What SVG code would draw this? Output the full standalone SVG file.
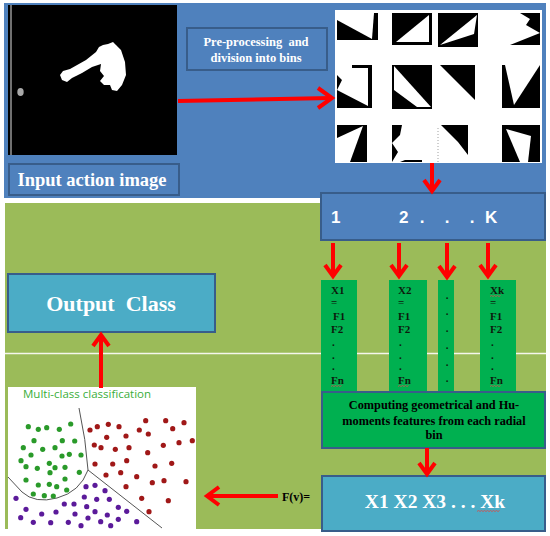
<svg xmlns="http://www.w3.org/2000/svg" width="550" height="536" viewBox="0 0 550 536">
<defs>
<style>
.serif{font-family:"Liberation Serif","Times New Roman",serif;font-weight:bold}
.wt{fill:#ffffff}
.bk{fill:#0d1a0d}
.box{stroke:#385D8A;stroke-width:2}
.arr{stroke:#FF0000;stroke-width:4;fill:none;stroke-linecap:butt}
.head{stroke:#FF0000;stroke-width:4;fill:none;stroke-linejoin:miter}
.sq{stroke:#d05050;stroke-width:0.8;fill:none}
.g{fill:#2a9a2a}.r{fill:#a01818}.p{fill:#5b1a9a}
</style>
</defs>
<rect width="550" height="536" fill="#ffffff"/>
<!-- panels -->
<rect x="4" y="3" width="542" height="195" fill="#4F81BD"/>
<rect x="5" y="203" width="541" height="326" fill="#9BBB59"/>
<line x1="5" y1="353.5" x2="546" y2="353.5" stroke="#f4f6ec" stroke-width="1.5"/>

<!-- input image -->
<g id="input-image">
<rect x="8" y="5" width="169" height="150" fill="#000"/>
<line x1="11" y1="5" x2="11" y2="155" stroke="#e0e0e0" stroke-width="1"/>
<path d="M60 75 L63 71 L70 69 L86 60 L96 52 L99 47 L103 45 L108 44 L113 42 L116 45 L121 50 L125 62 L126 75 L122 85 L117 91 L112 90 L110 85 L104 85 L100 81 L104 76 L100 71 L101 64 L92 67 L82 73 L72 78 L67 82 L62 80 Z" fill="#fff"/>
<ellipse cx="20.5" cy="92" rx="3.2" ry="4" fill="#a8a8a8"/>
</g>
<g id="input-label">
<rect x="9" y="164" width="170" height="31" fill="#4F81BD" class="box"/>
<text x="92" y="186" text-anchor="middle" class="serif wt" font-size="18.5">Input action image</text>
</g>

<g id="preprocess">
<rect x="187" y="28" width="140" height="42" fill="#4F81BD" class="box"/>
<text x="256" y="46" text-anchor="middle" class="serif wt" font-size="12.5" xml:space="preserve">Pre-processing  and</text>
<text x="256" y="62" text-anchor="middle" class="serif wt" font-size="12.5">division into bins</text>
</g>

<!-- bins -->
<g id="bins">
<rect x="335" y="10" width="207" height="153" fill="#ffffff"/>
<!-- row1 -->
<rect x="337" y="13" width="41" height="27" fill="#000"/>
<polygon points="337,13 374,13 372,39 337,20" fill="#fff"/>
<rect x="392" y="13" width="40" height="32" fill="#000"/>
<polygon points="429,15 429,42 396,42" fill="#fff"/>
<rect x="438" y="13" width="40" height="34" fill="#000"/>
<polygon points="440,45 477,15 474,34" fill="#fff"/>
<rect x="502" y="13" width="38" height="32" fill="#000"/>
<polygon points="502,13 520,13 530,19 526,25 540,33 510,45 502,45" fill="#fff"/>
<!-- row2 -->
<rect x="337" y="65" width="35" height="43" fill="#000"/>
<polygon points="337,65 352,65 352,68 368,68 368,106 337,90 342,80 337,75" fill="#fff"/>
<rect x="392" y="65" width="40" height="44" fill="#000"/>
<polygon points="394,66 431,107 417,107 394,90" fill="#fff"/>
<polygon points="440,65 475,65 475,100" fill="#000"/>
<rect x="502" y="65" width="38" height="43" fill="#000"/>
<polygon points="505,65 540,65 514,105" fill="#fff"/>
<!-- row3 -->
<rect x="337" y="125" width="30" height="37" fill="#000"/>
<polygon points="337,138 363,126 350,162 337,162" fill="#fff"/>
<rect x="392" y="125" width="30" height="37" fill="#000"/>
<polygon points="402,125 422,125 422,160 405,160 400,162 392,162 398,152 392,143 400,135" fill="#fff"/>
<polygon points="441,125 468,125 468,155 458,142" fill="#000"/>
<line x1="438" y1="128" x2="438" y2="162" stroke="#888" stroke-width="0.8" stroke-dasharray="1,2"/>
<rect x="502" y="125" width="38" height="37" fill="#000"/>
<polygon points="506,129 531,136 528,162 520,162" fill="#fff"/>
</g>

<g id="bins-index">
<rect x="321" y="193" width="224" height="47" fill="#4F81BD" class="box"/>
<g class="wt" font-family="Liberation Sans, Arial, sans-serif" font-weight="bold" font-size="17">
<text x="331" y="223">1</text>
<text x="399" y="223">2</text>
<text x="422" y="223" text-anchor="middle">.</text>
<text x="447" y="223" text-anchor="middle">.</text>
<text x="472" y="223" text-anchor="middle">.</text>
<text x="485" y="223">K</text>
</g>
</g>

<!-- feature columns -->
<g id="col1">
<rect x="321" y="280" width="36" height="112" fill="#00B050"/>
<g class="serif bk" font-size="11">
<text x="331" y="294">X1</text><text x="331" y="306">=</text><text x="333" y="320">F1</text><text x="331" y="333">F2</text>
<text x="332" y="346">.</text><text x="332" y="359">.</text><text x="332" y="370">.</text><text x="331" y="384">Fn</text>
</g>
<path class="sq" d="M331 386.5 l1.5 -1 l1.5 1 l1.5 -1 l1.5 1 l1.5 -1 l1.5 1 l1.5 -1"/>
</g>
<g id="col2">
<rect x="389" y="280" width="38" height="112" fill="#00B050"/>
<g class="serif bk" font-size="11">
<text x="398" y="294">X2</text><text x="398" y="306">=</text><text x="398" y="320">F1</text><text x="398" y="333">F2</text>
<text x="399" y="346">.</text><text x="399" y="359">.</text><text x="399" y="370">.</text><text x="398" y="384">Fn</text>
</g>
<path class="sq" d="M398 386.5 l1.5 -1 l1.5 1 l1.5 -1 l1.5 1 l1.5 -1 l1.5 1 l1.5 -1"/>
</g>
<g id="col3">
<rect x="438" y="280" width="16" height="112" fill="#00B050"/>
<g class="serif bk" font-size="11" text-anchor="middle">
<text x="447" y="299">.</text><text x="447" y="315">.</text><text x="447" y="332">.</text><text x="447" y="349">.</text><text x="447" y="366">.</text><text x="447" y="382">.</text>
</g>
</g>
<g id="col4">
<rect x="480" y="280" width="36" height="112" fill="#00B050"/>
<g class="serif bk" font-size="11">
<text x="490" y="294">Xk</text><text x="490" y="306">=</text><text x="490" y="320">F1</text><text x="490" y="333">F2</text>
<text x="491" y="346">.</text><text x="491" y="359">.</text><text x="491" y="370">.</text><text x="490" y="384">Fn</text>
</g>
<path class="sq" d="M490 296.5 l1.5 -1 l1.5 1 l1.5 -1 l1.5 1 l1.5 -1 l1.5 1 l1.5 -1"/>
<path class="sq" d="M490 386.5 l1.5 -1 l1.5 1 l1.5 -1 l1.5 1 l1.5 -1 l1.5 1 l1.5 -1"/>
</g>

<g id="computing">
<rect x="322" y="392" width="223" height="56" fill="#00B050" class="box"/>
<g class="serif" fill="#000" font-size="12.3" text-anchor="middle">
<text x="434" y="409">Computing geometrical and Hu-</text>
<text x="434" y="425">moments features from each radial</text>
<text x="434" y="439">bin</text>
</g>
</g>

<g id="feature-vector">
<rect x="322" y="476" width="223" height="55" fill="#4BACC6" class="box"/>
<text x="435" y="508" text-anchor="middle" class="serif wt" font-size="19.5">X1 X2 X3 . . . Xk</text>
<path d="M477 511.5 l1.5 -1 l1.5 1 l1.5 -1 l1.5 1 l1.5 -1 l1.5 1 l1.5 -1 l1.5 1 l1.5 -1 l1.5 1 l1.5 -1 l1.5 1 l1.5 -1 l1.5 1 l1.5 -1" stroke="#d05050" stroke-width="0.9" fill="none"/>
</g>
<g id="fv-label">
<text x="282" y="501" class="serif" fill="#000" font-size="12">F(v)=</text>
</g>

<g id="output-class">
<rect x="8" y="274" width="207" height="58" fill="#4BACC6" class="box"/>
<text x="111" y="311" text-anchor="middle" class="serif wt" font-size="22" xml:space="preserve">Output  Class</text>
</g>

<!-- scatter -->
<g id="classification">
<rect x="8" y="387" width="188" height="142" fill="#ffffff"/>
<text x="23" y="398" font-family="Open Sans, Liberation Sans, sans-serif" font-size="11.5" fill="#3aae3a">Multi-class classification</text>
<path d="M79 408 Q86 440 88 470 L162 528" stroke="#555" stroke-width="1" fill="none"/>
<path d="M88 470 Q80 492 57 498 Q35 504 22 492 L8 477" stroke="#555" stroke-width="1" fill="none"/>
<g class="g">
<circle cx="28.3" cy="426.7" r="2.6"/><circle cx="38.3" cy="429.3" r="2.6"/><circle cx="46.7" cy="427.7" r="2.6"/><circle cx="59.3" cy="429.3" r="2.6"/><circle cx="70.7" cy="424" r="2.6"/>
<circle cx="34" cy="440.7" r="2.6"/><circle cx="62.3" cy="440.7" r="2.6"/><circle cx="74.7" cy="441" r="2.6"/><circle cx="23.3" cy="447.7" r="2.6"/><circle cx="42.7" cy="449.3" r="2.6"/>
<circle cx="55" cy="447.7" r="2.6"/><circle cx="31" cy="455" r="2.6"/><circle cx="62" cy="456" r="2.6"/><circle cx="69.3" cy="454.3" r="2.6"/><circle cx="81" cy="455" r="2.6"/>
<circle cx="21" cy="460.7" r="2.6"/><circle cx="49.3" cy="463.3" r="2.6"/><circle cx="26" cy="466.7" r="2.6"/><circle cx="37.3" cy="468.3" r="2.6"/><circle cx="55" cy="467.7" r="2.6"/>
<circle cx="65" cy="467.3" r="2.6"/><circle cx="50" cy="472.7" r="2.6"/><circle cx="79.3" cy="472.3" r="2.6"/><circle cx="65" cy="479" r="2.6"/><circle cx="26" cy="480" r="2.6"/>
<circle cx="38.3" cy="485" r="2.6"/><circle cx="49.3" cy="484.3" r="2.6"/><circle cx="56.7" cy="486.7" r="2.6"/><circle cx="66.7" cy="490" r="2.6"/><circle cx="33.3" cy="494" r="2.6"/>
<circle cx="44.3" cy="495.7" r="2.6"/><circle cx="53.3" cy="496" r="2.6"/>
</g>
<g class="r">
<circle cx="90" cy="430" r="2.6"/><circle cx="97.3" cy="426.7" r="2.6"/><circle cx="108.3" cy="424.3" r="2.6"/><circle cx="119" cy="426.7" r="2.6"/><circle cx="106.7" cy="437.3" r="2.6"/>
<circle cx="126" cy="436" r="2.6"/><circle cx="139.3" cy="430" r="2.6"/><circle cx="145.7" cy="420.7" r="2.6"/><circle cx="148.3" cy="434" r="2.6"/><circle cx="165.7" cy="420.7" r="2.6"/>
<circle cx="172.7" cy="428.7" r="2.6"/><circle cx="184" cy="422.7" r="2.6"/><circle cx="94.3" cy="445" r="2.6"/><circle cx="101" cy="447.7" r="2.6"/><circle cx="115.3" cy="449.3" r="2.6"/>
<circle cx="129" cy="447.7" r="2.6"/><circle cx="147.7" cy="452.7" r="2.6"/><circle cx="163.3" cy="445.3" r="2.6"/><circle cx="179" cy="442.7" r="2.6"/><circle cx="192.3" cy="440.7" r="2.6"/>
<circle cx="95" cy="464" r="2.6"/><circle cx="112.7" cy="464" r="2.6"/><circle cx="126.7" cy="460.7" r="2.6"/><circle cx="155" cy="466" r="2.6"/><circle cx="171.7" cy="463.3" r="2.6"/>
<circle cx="106" cy="475" r="2.6"/><circle cx="120.7" cy="472.7" r="2.6"/><circle cx="136.7" cy="476.7" r="2.6"/><circle cx="152.3" cy="482.7" r="2.6"/><circle cx="164" cy="480.7" r="2.6"/>
<circle cx="186" cy="481.7" r="2.6"/><circle cx="126" cy="486.7" r="2.6"/><circle cx="141.7" cy="498.3" r="2.6"/><circle cx="168.3" cy="500.7" r="2.6"/><circle cx="149" cy="511.7" r="2.6"/>
</g>
<g class="p">
<circle cx="86" cy="486.7" r="2.6"/><circle cx="95" cy="485.3" r="2.6"/><circle cx="105" cy="490.7" r="2.6"/><circle cx="16" cy="498.3" r="2.6"/><circle cx="84.3" cy="497" r="2.6"/>
<circle cx="96.7" cy="499.3" r="2.6"/><circle cx="109.3" cy="499.3" r="2.6"/><circle cx="74" cy="504" r="2.6"/><circle cx="86.7" cy="506.7" r="2.6"/><circle cx="26" cy="509.3" r="2.6"/>
<circle cx="118.3" cy="507.3" r="2.6"/><circle cx="126.7" cy="511.3" r="2.6"/><circle cx="41.7" cy="514" r="2.6"/><circle cx="56" cy="512" r="2.6"/><circle cx="75" cy="514" r="2.6"/>
<circle cx="95" cy="511.7" r="2.6"/><circle cx="107.3" cy="515" r="2.6"/><circle cx="20.7" cy="517.7" r="2.6"/><circle cx="33.3" cy="522.3" r="2.6"/><circle cx="50.7" cy="522.7" r="2.6"/>
<circle cx="68.3" cy="522.3" r="2.6"/><circle cx="88" cy="518" r="2.6"/><circle cx="100.7" cy="521.7" r="2.6"/><circle cx="81" cy="525.7" r="2.6"/><circle cx="110.7" cy="525.7" r="2.6"/>
<circle cx="118.3" cy="519.3" r="2.6"/><circle cx="136.7" cy="521.7" r="2.6"/><circle cx="64.3" cy="504" r="2.6"/>
</g>
</g>

<!-- connectors -->
<g id="connectors">
<line class="arr" x1="178" y1="101" x2="331" y2="98"/>
<polyline class="head" points="318,88 332,98 318,108"/>
<line class="arr" x1="432" y1="163" x2="432" y2="191"/>
<polyline class="head" points="424,180 432,191 440,180"/>
<line class="arr" x1="333" y1="243" x2="333" y2="276"/>
<polyline class="head" points="325,265 333,276 341,265"/>
<line class="arr" x1="399" y1="243" x2="399" y2="276"/>
<polyline class="head" points="391,265 399,276 407,265"/>
<line class="arr" x1="447" y1="243" x2="447" y2="277"/>
<polyline class="head" points="439,266 447,277 455,266"/>
<line class="arr" x1="488" y1="243" x2="488" y2="276"/>
<polyline class="head" points="480,265 488,276 496,265"/>
<line class="arr" x1="427" y1="448" x2="427" y2="474"/>
<polyline class="head" points="419,463 427,474 435,463"/>
<line class="arr" x1="278" y1="496" x2="208" y2="496"/>
<polyline class="head" points="219,487 207,496 219,505"/>
<line class="arr" x1="101" y1="388" x2="101" y2="335"/>
<polyline class="head" points="93,346 101,335 109,346"/>
</g>
</svg>
